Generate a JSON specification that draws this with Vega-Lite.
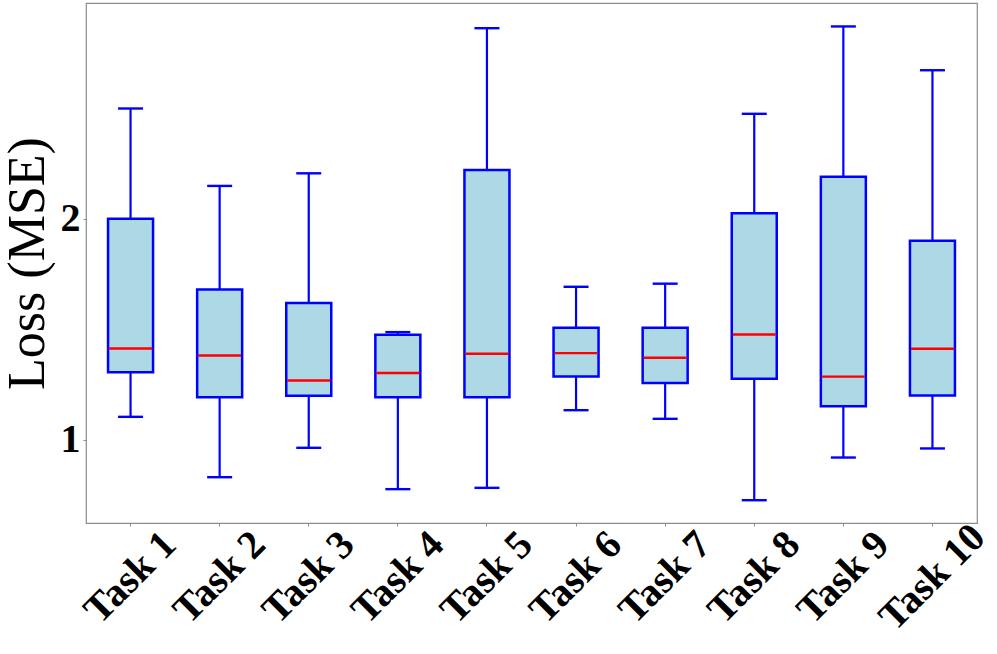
{
  "$schema": "https://vega.github.io/schema/vega-lite/v6.json",
  "width": 891,
  "height": 520,
  "autosize": {"type": "none"},
  "padding": {"left": 86, "top": 3, "right": 20, "bottom": 131},
  "background": "white",
  "config": {
    "view": {"stroke": "#8c8c8c", "strokeWidth": 1.2},
    "font": "Liberation Serif",
    "axisY": {
      "title": "Loss (MSE)",
      "titleFontSize": 52,
      "titleFont": "Liberation Serif",
      "titleFontWeight": "normal",
      "titleColor": "black",
      "titleX": -43,
      "titleY": 260,
      "titleAngle": -90,
      "titleAlign": "center",
      "titleBaseline": "alphabetic",
      "labelFontSize": 40,
      "labelFontWeight": "bold",
      "labelFont": "Liberation Serif",
      "labelColor": "black",
      "labelPadding": 3,
      "tickSize": 3,
      "tickColor": "#8c8c8c",
      "domain": false,
      "grid": false
    }
  },
  "data": {
    "values": [
      {"task": "Task 1", "lower": 1.104, "q1": 1.306, "median": 1.413, "q3": 1.999, "upper": 2.498},
      {"task": "Task 2", "lower": 0.831, "q1": 1.193, "median": 1.381, "q3": 1.680, "upper": 2.148},
      {"task": "Task 3", "lower": 0.964, "q1": 1.199, "median": 1.268, "q3": 1.619, "upper": 2.205},
      {"task": "Task 4", "lower": 0.777, "q1": 1.193, "median": 1.302, "q3": 1.475, "upper": 1.487},
      {"task": "Task 5", "lower": 0.783, "q1": 1.193, "median": 1.389, "q3": 2.220, "upper": 2.861},
      {"task": "Task 6", "lower": 1.134, "q1": 1.286, "median": 1.392, "q3": 1.507, "upper": 1.692},
      {"task": "Task 7", "lower": 1.095, "q1": 1.257, "median": 1.371, "q3": 1.507, "upper": 1.706},
      {"task": "Task 8", "lower": 0.727, "q1": 1.276, "median": 1.476, "q3": 2.024, "upper": 2.474},
      {"task": "Task 9", "lower": 0.920, "q1": 1.152, "median": 1.286, "q3": 2.190, "upper": 2.869},
      {"task": "Task 10", "lower": 0.961, "q1": 1.200, "median": 1.412, "q3": 1.900, "upper": 2.671}
    ]
  },
  "encoding": {
    "x": {
      "field": "task",
      "type": "nominal",
      "sort": null,
      "scale": {"paddingInner": 0, "paddingOuter": 0},
      "axis": {
        "title": null,
        "labelAngle": -45,
        "labelAlign": "center",
        "labelBaseline": "middle",
        "labelFontSize": 40,
        "labelFontWeight": "bold",
        "labelFont": "Liberation Serif",
        "labelColor": "black",
        "labelPadding": 51,
        "labelOverlap": false,
        "labelBound": false,
        "labelLimit": 400,
        "tickSize": 3,
        "tickColor": "#8c8c8c",
        "domain": false,
        "grid": false
      }
    }
  },
  "layer": [
    {
      "mark": {"type": "rule", "color": "#0000ff", "strokeWidth": 2.2},
      "encoding": {
        "y": {
          "field": "lower",
          "type": "quantitative",
          "title": "Loss (MSE)",
          "scale": {"domain": [0.624, 2.975], "nice": false, "zero": false},
          "axis": {"values": [1, 2], "format": "d", "title": "Loss (MSE)"}
        },
        "y2": {"field": "upper"}
      }
    },
    {
      "mark": {"type": "bar", "size": 45, "fill": "#add8e6", "stroke": "#0000ff", "strokeWidth": 2.5},
      "encoding": {
        "y": {"field": "q1", "type": "quantitative", "title": "Loss (MSE)", "axis": {"values": [1, 2], "format": "d", "title": "Loss (MSE)"}},
        "y2": {"field": "q3"}
      }
    },
    {
      "mark": {"type": "tick", "size": 43, "thickness": 2.4, "color": "#ff0000", "opacity": 1},
      "encoding": {
        "y": {"field": "median", "type": "quantitative", "title": "Loss (MSE)", "axis": {"values": [1, 2], "format": "d", "title": "Loss (MSE)"}}
      }
    },
    {
      "mark": {"type": "tick", "size": 25, "thickness": 2.4, "color": "#0000ff", "opacity": 1},
      "encoding": {
        "y": {"field": "upper", "type": "quantitative", "title": "Loss (MSE)", "axis": {"values": [1, 2], "format": "d", "title": "Loss (MSE)"}}
      }
    },
    {
      "mark": {"type": "tick", "size": 25, "thickness": 2.4, "color": "#0000ff", "opacity": 1},
      "encoding": {
        "y": {"field": "lower", "type": "quantitative", "title": "Loss (MSE)", "axis": {"values": [1, 2], "format": "d", "title": "Loss (MSE)"}}
      }
    }
  ]
}
